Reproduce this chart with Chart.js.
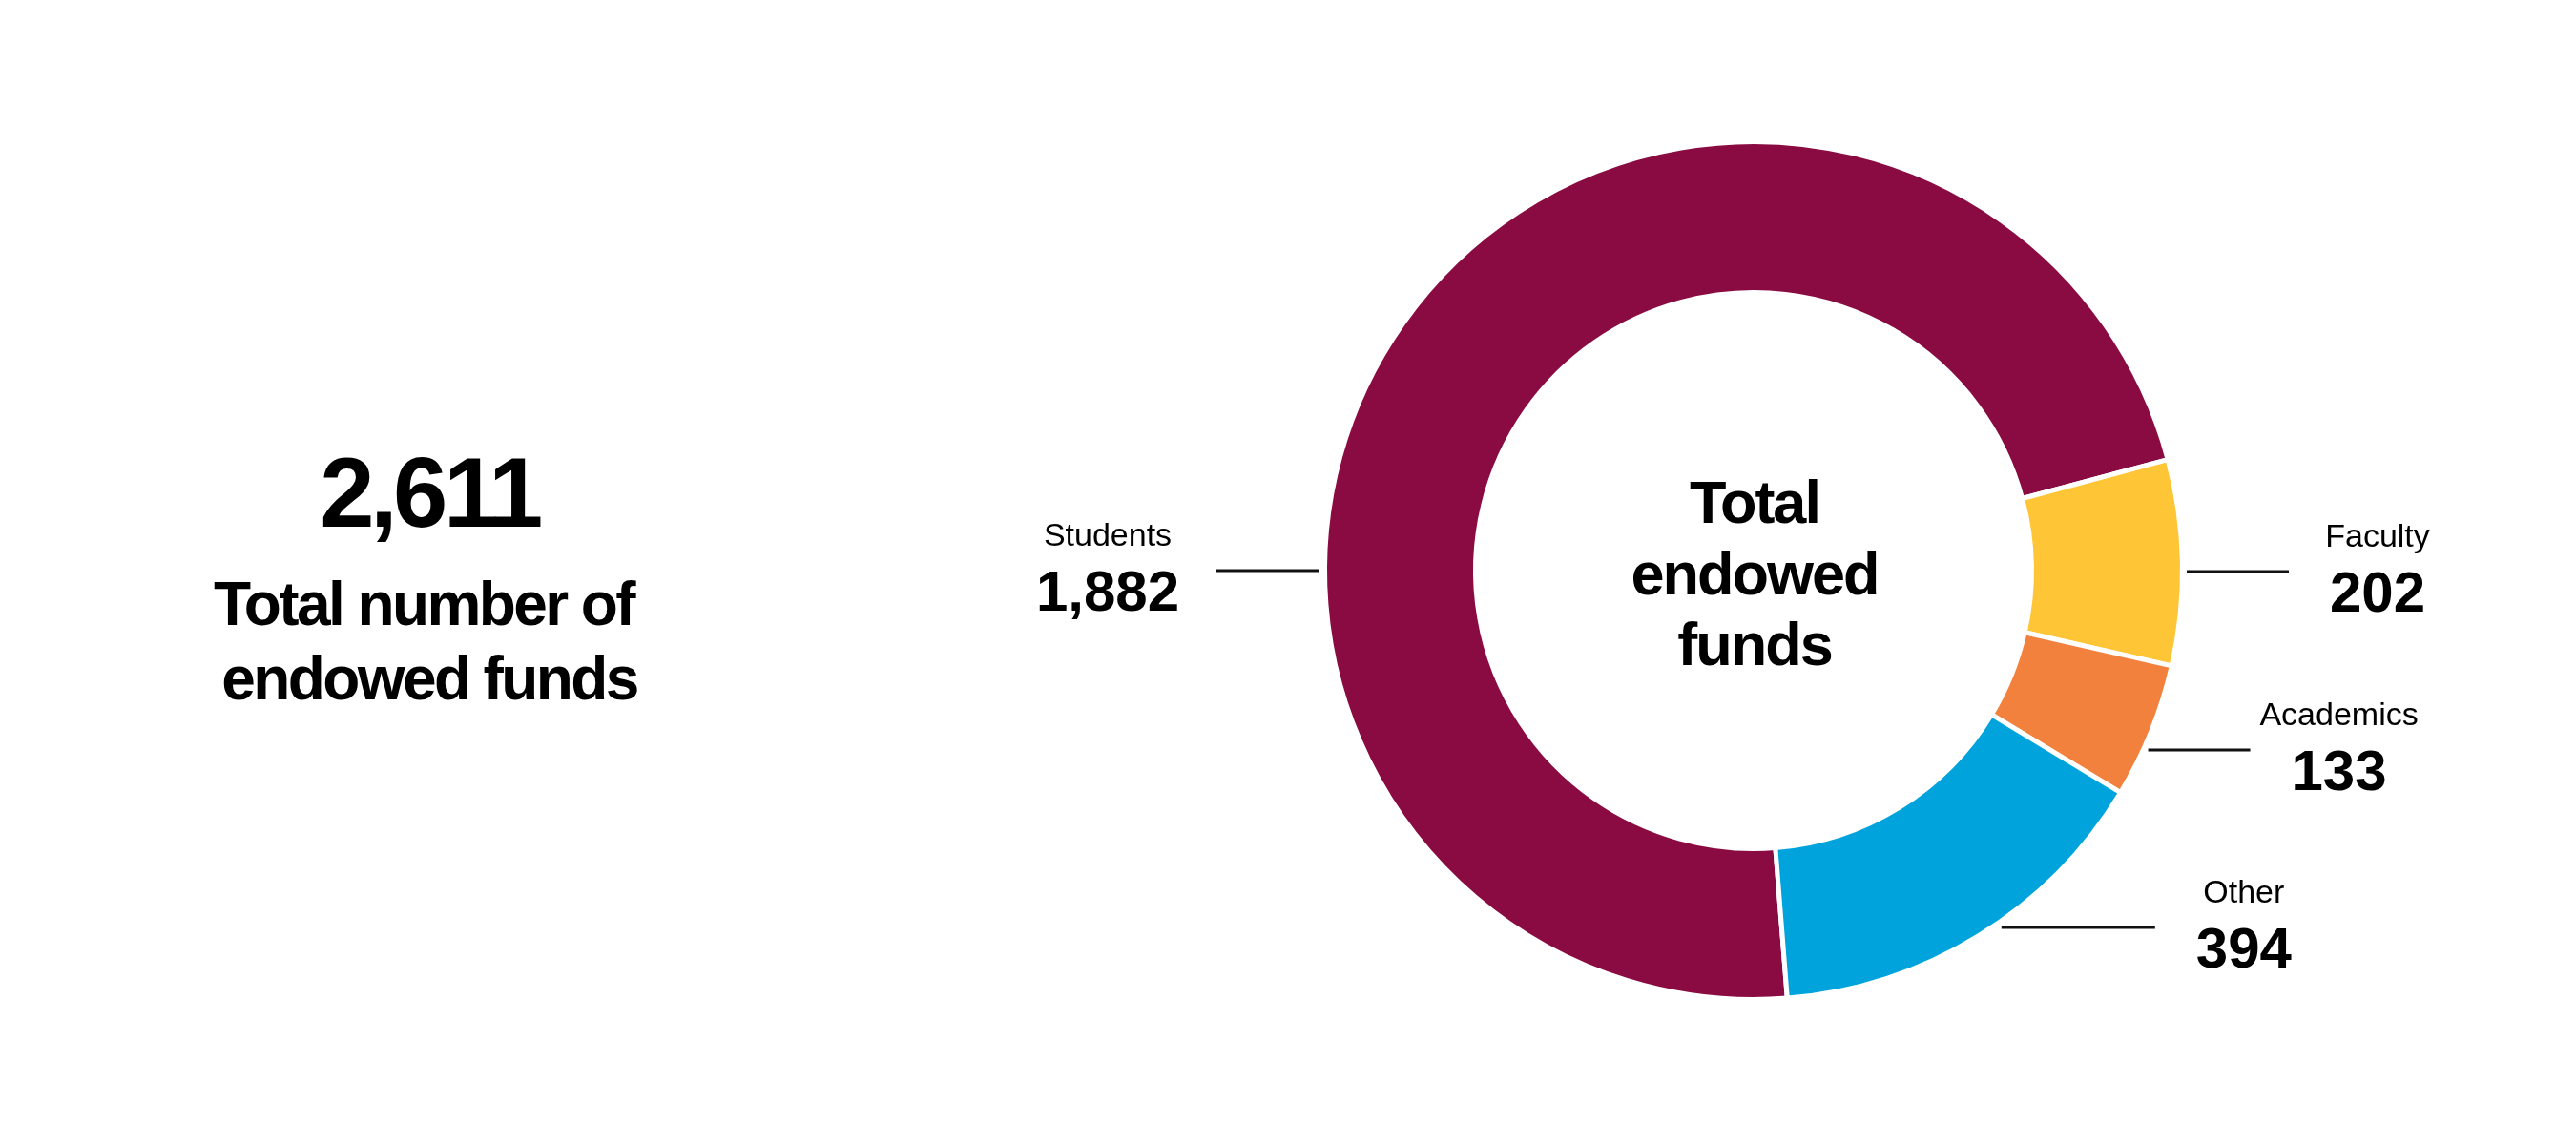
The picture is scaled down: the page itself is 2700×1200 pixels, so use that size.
<!DOCTYPE html>
<html><head><meta charset="utf-8">
<script src="https://cdn.jsdelivr.net/npm/chart.js@4/dist/chart.umd.min.js"></script>
<style>html,body{margin:0;padding:0;background:#fff;overflow:hidden}#wrap{position:relative;width:2700px;height:1200px}</style>
</head><body><div id="wrap"><canvas id="c" width="2700" height="1200"></canvas></div>
<script>
// ---- data ----
const categories = ['Students', 'Faculty', 'Academics', 'Other'];
const fundCounts = [1882, 202, 133, 394];
const totalLabelLines = ['Total number of', 'endowed funds'];
const centerLabelLines = ['Total', 'endowed', 'funds'];
const sliceColors = ['#8A0B42', '#FEC636', '#F2813E', '#00A3DC'];

// ---- annotation layout (not data) ----
const labelLayout = [
  { side: -1, dy: 0,   len: 108, gap: 8,  textDx: -114 },
  { side: 1,  dy: 1,   len: 107, gap: 7,  textDx: 93 },
  { side: 1,  dy: 188, len: 107, gap: 8,  textDx: 93 },
  { side: 1,  dy: 374, len: 161, gap: 15, textDx: 93 }
];
const FONT = "'Liberation Sans', Arial, Helvetica, sans-serif";
const BORDER = 5;

const fmt = n => n.toLocaleString('en-US');
const totalFunds = fundCounts.reduce((a, b) => a + b, 0);

const annotations = {
  id: 'annotations',
  afterDraw(chart) {
    const ctx = chart.ctx;
    const arcs = chart.getDatasetMeta(0).data;
    const a0 = arcs[0];
    const cx = a0.x, cy = a0.y;
    const R = a0.outerRadius - BORDER / 2;
    ctx.save();
    ctx.fillStyle = '#000';
    ctx.textAlign = 'center';
    ctx.textBaseline = 'alphabetic';

    // left summary
    ctx.font = `bold 103px ${FONT}`;
    ctx.letterSpacing = '-4.5px';
    ctx.fillText(fmt(totalFunds), 450, 552);
    ctx.font = `bold 64px ${FONT}`;
    ctx.letterSpacing = '-2.6px';
    ctx.fillText(totalLabelLines[0], 444, 655);
    ctx.fillText(totalLabelLines[1], 450, 733);

    // center label
    ctx.font = `bold 63px ${FONT}`;
    ctx.letterSpacing = '-2px';
    const cOff = [-50, 25, 99];
    centerLabelLines.forEach((t, i) => ctx.fillText(t, cx + 1, cy + cOff[i]));

    // slice labels with leader lines
    ctx.strokeStyle = '#111';
    ctx.lineWidth = 3;
    categories.forEach((name, i) => {
      const L = labelLayout[i];
      const y = cy + L.dy;
      const half = Math.sqrt(Math.max(R * R - L.dy * L.dy, 0));
      const x0 = cx + L.side * (half + L.gap);
      const x1 = x0 + L.side * L.len;
      ctx.beginPath();
      ctx.moveTo(x0, y);
      ctx.lineTo(x1, y);
      ctx.stroke();
      const tx = x1 + L.textDx;
      ctx.letterSpacing = '0px';
      ctx.font = `34px ${FONT}`;
      ctx.fillText(name, tx, y - 26);
      ctx.font = `bold 60px ${FONT}`;
      ctx.fillText(fmt(fundCounts[i]), tx, y + 42);
    });
    ctx.restore();
  }
};

new Chart(document.getElementById('c'), {
  type: 'doughnut',
  data: {
    labels: categories,
    datasets: [{
      data: fundCounts,
      backgroundColor: sliceColors,
      borderColor: '#ffffff',
      borderWidth: BORDER,
      hoverOffset: 0
    }]
  },
  options: {
    responsive: false,
    animation: false,
    rotation: 175.5,
    cutout: '64.85%',
    layout: { padding: { left: 1386, right: 410, top: 146, bottom: 150 } },
    plugins: { legend: { display: false }, tooltip: { enabled: false } }
  },
  plugins: [annotations]
});
</script>
</body></html>
